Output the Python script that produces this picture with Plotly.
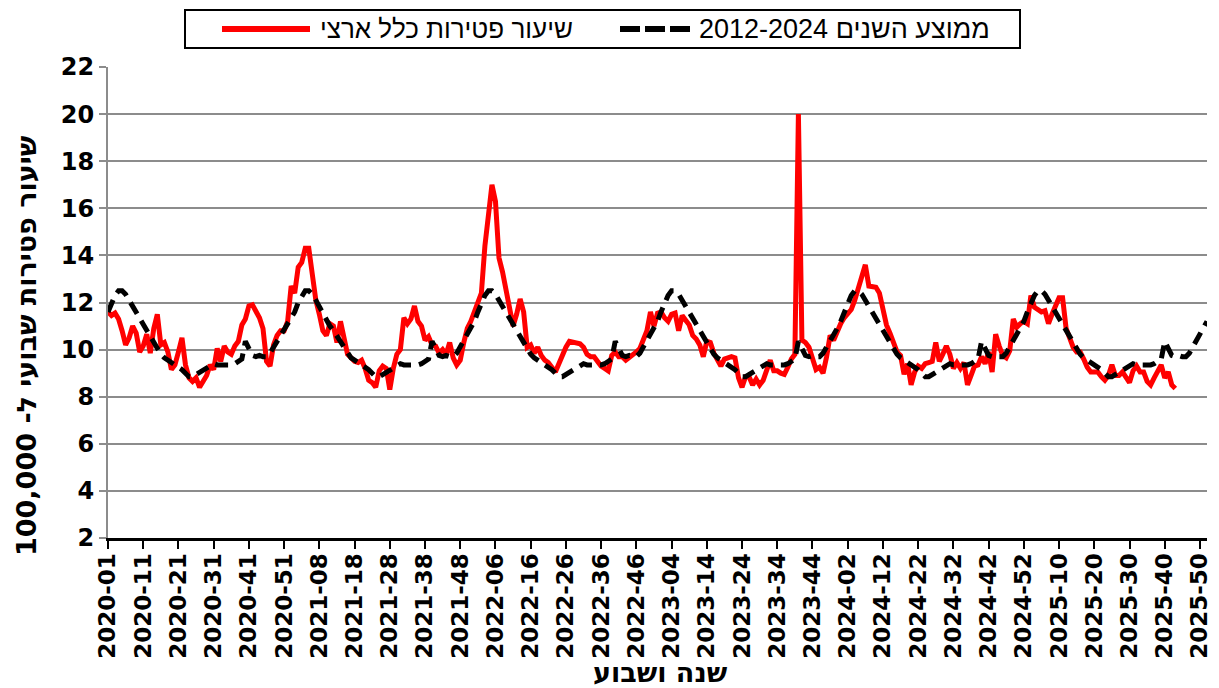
import plotly.graph_objects as go

# ---------------- data ----------------
years = [2020, 2021, 2022, 2023, 2024, 2025]
weeks_in_year = [53, 52, 52, 52, 52, 52]
week_labels = [f"{y}-{w:02d}" for y, n in zip(years, weeks_in_year) for w in range(1, n + 1)]

# weekly national mortality rate per 100,000 (2020-01 .. 2025-43)
rate_2020 = [11.6, 11.45, 11.55, 11.3, 10.8, 10.2, 10.5, 11.0, 10.7, 9.9,
             10.15, 10.65, 9.85, 10.9, 11.5, 10.2, 10.3, 9.9, 9.15, 9.35,
             9.9, 10.5, 9.35, 8.8, 8.65, 8.8, 8.4, 8.7, 8.9, 9.35,
             9.15, 10.05, 9.5, 10.15, 9.9, 9.8, 10.15, 10.35, 11.05, 11.3,
             11.85, 11.9, 11.65, 11.35, 10.9, 9.5, 9.3, 10.2, 10.6, 10.8,
             10.8, 11.2, 12.7]
rate_2021 = [12.4, 13.5, 13.7, 14.3, 14.3, 13.2, 12.1, 11.5, 10.8, 10.6,
             11.1, 11.0, 10.3, 11.2, 10.4, 9.8, 9.65, 9.5, 9.45, 9.55,
             9.2, 8.7, 8.6, 8.4, 9.1, 9.3, 9.2, 8.3, 9.2, 9.8,
             10.0, 11.35, 11.1, 11.3, 11.85, 11.2, 11.0, 10.4, 10.55, 10.2,
             10.15, 9.85, 10.0, 9.8, 10.3, 9.65, 9.35, 9.55, 10.3, 10.9,
             11.2, 11.6]
rate_2022 = [11.85, 12.4, 14.4, 15.8, 17.0, 16.3, 13.9, 13.3, 12.5, 11.6,
             11.0, 11.5, 12.15, 11.6, 10.1, 10.2, 9.85, 10.1, 9.75, 9.55,
             9.45, 9.25, 9.05, 9.4, 9.8, 10.1, 10.35, 10.3, 10.3, 10.25,
             10.1, 9.8, 9.7, 9.7, 9.5, 9.3, 9.2, 9.1, 9.75, 9.9,
             9.7, 9.7, 9.55, 9.65, 9.75, 9.9, 10.05, 10.4, 10.8, 11.6,
             11.0, 11.55]
rate_2023 = [11.6, 11.35, 11.2, 11.5, 11.55, 10.8, 11.45, 11.25, 11.05, 10.6,
             10.45, 10.2, 9.7, 10.35, 10.3, 9.85, 9.55, 9.3, 9.6, 9.65,
             9.7, 9.65, 8.8, 8.4, 8.85, 8.85, 8.5, 8.75, 8.5, 8.7,
             9.2, 9.55, 9.1, 9.1, 9.0, 8.95, 9.25, 9.6, 9.8, 20.0,
             10.4, 10.3, 10.1, 9.65, 9.15, 9.25, 9.0, 9.7, 10.6, 10.4,
             10.8, 11.1]
rate_2024 = [11.35, 11.5, 11.7, 12.1, 12.6, 13.0, 13.6, 12.7, 12.7, 12.65,
             12.4, 11.7, 11.05, 10.7, 10.35, 9.9, 9.75, 8.95, 9.4, 8.5,
             9.05, 9.3, 9.2, 9.4, 9.45, 9.5, 10.3, 9.5, 9.8, 10.15,
             9.8, 9.2, 9.45, 9.2, 9.45, 8.5, 8.9, 9.3, 9.35, 9.7,
             9.4, 9.9, 9.05, 10.65, 10.15, 9.75, 9.65, 9.95, 11.3, 10.95,
             11.1, 11.2]
rate_2025 = [11.1, 12.3, 11.8, 11.7, 11.6, 11.65, 11.1, 11.5, 11.8, 12.2,
             12.2, 10.9, 10.5, 10.1, 9.9, 9.9, 9.6, 9.25, 9.05, 9.05,
             9.05, 8.85, 8.7, 8.9, 9.35, 8.9, 8.9, 9.05, 8.8, 8.6,
             9.1, 9.3, 9.05, 9.05, 8.65, 8.5, 8.8, 9.05, 9.35, 8.8,
             9.05, 8.5, 8.35]
national_rate = rate_2020 + rate_2021 + rate_2022 + rate_2023 + rate_2024 + rate_2025

# 2012-2024 average by week of year (weeks 1..53)
avg_by_week = [11.6, 12.0, 12.3, 12.5, 12.5, 12.35, 12.1, 11.8, 11.55, 11.3,
               11.0, 10.8, 10.55, 10.3, 10.05, 9.8, 9.65, 9.55, 9.45, 9.4,
               9.3, 9.15, 9.0, 8.85, 8.85, 8.95, 9.05, 9.1, 9.25, 9.35,
               9.4, 9.35, 9.35, 9.3, 9.3, 9.35, 9.4, 9.5, 9.6, 10.35,
               10.0, 9.75, 9.7, 9.75, 9.7, 9.7, 9.85, 10.1, 10.4, 10.65,
               10.9, 11.2, 11.4]
avg_2012_2024 = [avg_by_week[int(lbl[-2:]) - 1] for lbl in week_labels]

tick_labels = week_labels[::10]

name_rate = "שיעור פטירות כלל ארצי"
name_avg = "ממוצע השנים 2012-2024"
y_title = "שיעור פטירות שבועי ל- 100,000"
x_title = "שנה ושבוע"

# ---------------- figure ----------------
W, H = 1219, 688
ML, MR, MT, MB = 108, 12, 67, 150
PW, PH = W - ML - MR, H - MT - MB


def px(xp):
    return (xp - ML) / PW


def py(yp):
    return (H - MB - yp) / PH


BOLD = "DejaVu Sans"

fig = go.Figure()
fig.add_trace(go.Scatter(x=week_labels[:len(national_rate)], y=national_rate, mode="lines",
                         name=name_rate, line=dict(color="#FF0000", width=5),
                         showlegend=False))
fig.add_trace(go.Scatter(x=week_labels, y=avg_2012_2024, mode="lines",
                         name=name_avg, line=dict(color="#000000", width=5, dash="13px,8px"),
                         showlegend=False))

fig.update_layout(
    width=W, height=H,
    margin=dict(l=ML, r=MR, t=MT, b=MB, pad=0),
    paper_bgcolor="white", plot_bgcolor="white",
    showlegend=False,
    xaxis=dict(type="category", range=[0, len(week_labels) - 1],
               tickmode="array", tickvals=tick_labels, ticktext=tick_labels,
               tickangle=-90,
               tickfont=dict(family=BOLD, size=23, color="black", weight="bold"),
               ticklabelstandoff=-5,
               ticks="outside", ticklen=8, tickwidth=2, tickcolor="black",
               showline=True, linecolor="black", linewidth=3,
               showgrid=False, zeroline=False, automargin=False),
    yaxis=dict(range=[2, 22], tick0=2, dtick=2,
               tickfont=dict(family=BOLD, size=24, color="black", weight="bold"),
               ticks="outside", ticklen=7, tickwidth=2, tickcolor="#8c8c8c",
               showline=True, linecolor="#8c8c8c", linewidth=2,
               showgrid=True, gridcolor="#8c8c8c", gridwidth=2, zeroline=False,
               automargin=False),
)

shapes = [
    dict(type="rect", xref="paper", yref="paper", x0=px(185), x1=px(1020), y0=py(48), y1=py(10),
         line=dict(color="black", width=2), fillcolor="white", layer="above"),
    dict(type="line", xref="paper", yref="paper", x0=px(222), x1=px(310), y0=py(29), y1=py(29),
         line=dict(color="#FF0000", width=6)),
    dict(type="line", xref="paper", yref="paper", x0=px(620), x1=px(690), y0=py(29), y1=py(29),
         line=dict(color="black", width=6, dash="20px,5px")),
]
annotations = [
    dict(text=name_rate, xref="paper", yref="paper", x=px(318), y=py(29), xanchor="left", yanchor="middle",
         showarrow=False, font=dict(family="Liberation Sans", size=26, color="black")),
    dict(text=name_avg, xref="paper", yref="paper", x=px(697), y=py(29), xanchor="left", yanchor="middle",
         showarrow=False, font=dict(family="Liberation Sans", size=27, color="black")),
    dict(text=y_title, xref="paper", yref="paper", x=px(26), y=py(346), xanchor="center", yanchor="middle",
         textangle=-90, showarrow=False, font=dict(family=BOLD, size=27, color="black", weight="bold")),
    dict(text=x_title, xref="paper", yref="paper", x=px(660), y=py(672), xanchor="center", yanchor="middle",
         showarrow=False, font=dict(family=BOLD, size=27, color="black", weight="bold")),
]
fig.update_layout(shapes=shapes, annotations=annotations)

fig.write_html("out.html", config={"displayModeBar": False},
               post_script="document.body.style.margin='0';document.body.style.overflow='hidden';")
